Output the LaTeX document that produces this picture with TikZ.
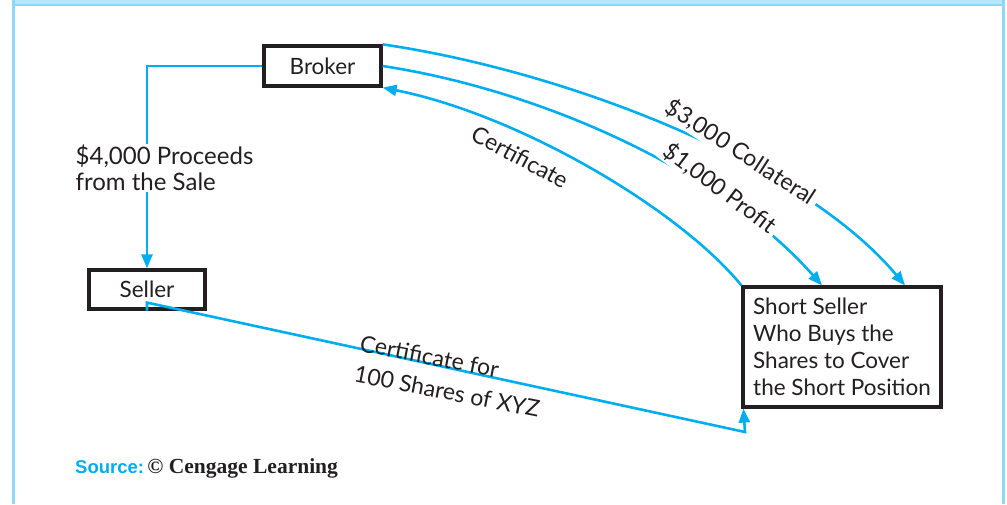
\documentclass[tikz,border=0pt]{standalone}
\usepackage{fontspec}
\setmainfont{Lato}
\newfontfamily\srcsans{Liberation Sans}
\newfontfamily\srcserif{Liberation Serif}
\usetikzlibrary{arrows.meta,calc}
\definecolor{flow}{HTML}{00AEEF}
\definecolor{ink}{HTML}{231F20}
\definecolor{frameblue}{HTML}{8FD8F5}
\definecolor{bandblue}{HTML}{B8E6FA}
\tikzset{
  box/.style={draw=ink, line width=3.2pt, text=ink, inner sep=0pt,
    font=\fontsize{22.5}{27}\selectfont},
  flowline/.style={draw=flow, line width=2.6pt},
  tip/.style={-{Triangle[length=14pt,width=11pt]}},
  lbl/.style={text=ink, inner sep=1.5pt, font=\fontsize{23}{26}\selectfont, align=left},
  gaplbl/.style={lbl, fill=white, inner xsep=4pt, inner ysep=2pt},
}
\begin{document}
\begin{tikzpicture}[x=1pt,y=-1pt]
\useasboundingbox (0,0) rectangle (1007,504);
% outer frame
\fill[bandblue] (13,0) rectangle (1004,5);
\draw[frameblue, line width=2pt] (13,4.5) -- (1004,4.5);
\draw[frameblue, line width=3pt] (13,0) -- (13,504);
\draw[frameblue, line width=3pt] (1003,0) -- (1003,504);

% parties
\node[box, minimum width=117, minimum height=40] (broker) at (322.5,66) {Broker};
\node[box, minimum width=116, minimum height=39] (seller) at (147,289.5) {Seller};
\node[box, minimum width=198, minimum height=120, align=left] (short) at (842,347)
  {Short Seller\\Who Buys the\\Shares to Cover\\the Short Position};

% proceeds from broker to seller
\draw[flowline, tip] (broker.west) -| (seller.north);
\node[lbl, fill=white, anchor=west, font=\fontsize{24}{26}\selectfont] (proceeds) at (74,168)
  {\$4,000 Proceeds\\from the Sale};

% certificate from seller to short seller
\coordinate (bend) at (745,432);
\draw[flowline, tip] (seller.south) -- ([yshift=8]seller.south) -- (bend) -- ([xshift=2]short.south west);
\node[lbl, rotate=-11, font=\fontsize{23}{31}\selectfont] (certxyz) at (450,376) {Certificate for\\100 Shares of XYZ};

% certificate from short seller back to broker
\draw[flowline, tip] (short.north west) .. controls (680,210) and (520,115) .. (broker.south east);
\node[lbl, rotate=-28] (cert) at (520,157) {Certificate};

% payments from broker to short seller
\draw[flowline, tip] (broker.east) .. controls (540,90) and (720,170) .. ([xshift=-20]short.north);
\draw[flowline, tip] (broker.north east) .. controls (560,70) and (800,160) .. ([xshift=63]short.north);
\node[gaplbl, rotate=-33] (collat) at (741,152) {\$3,000 Collateral};
\node[gaplbl, rotate=-37] (profit) at (720,188) {\$1,000 Profit};

% source line
\node[anchor=base west, inner sep=0pt] (source) at (75,473)
  {{\fontsize{18.5}{20}\srcsans\bfseries\color{flow}Source:} {\fontsize{21.5}{22}\srcserif\bfseries\color{ink}\textcopyright{} Cengage Learning}};
\end{tikzpicture}
\end{document}
